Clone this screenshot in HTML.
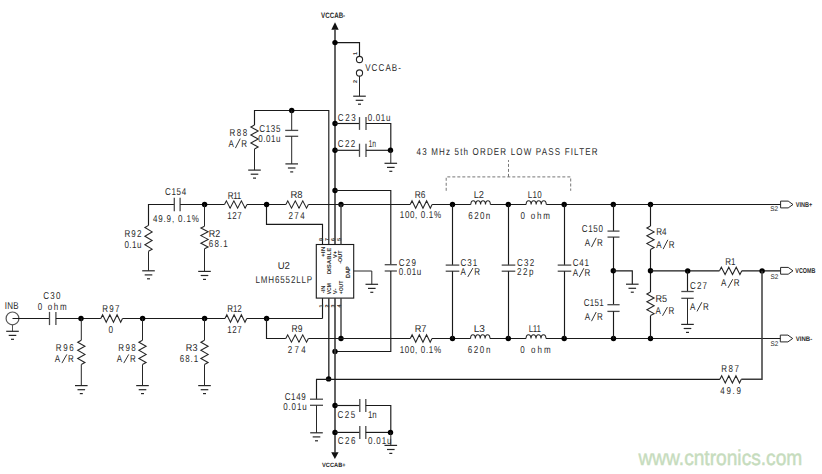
<!DOCTYPE html>
<html><head><meta charset="utf-8"><style>
html,body{margin:0;padding:0;background:#fff;}
svg{display:block;}
text{font-family:"Liberation Sans",sans-serif;text-rendering:geometricPrecision;}
</style></head><body>
<svg width="822" height="474" viewBox="0 0 822 474">
<rect width="822" height="474" fill="#fff"/>
<polygon points="331.3,29.8 338.7,29.8 335,22.2" fill="#111"/>
<polyline points="335,29.6 335,244.5" fill="none" stroke="#3c3c3c" stroke-width="1.6"/>
<polyline points="335,42.6 359.5,42.6 359.5,56.4" fill="none" stroke="#1a1a1a" stroke-width="1.15"/>
<circle cx="335" cy="42.6" r="2.7" fill="#000"/>
<circle cx="359.5" cy="59.5" r="3.1" fill="none" stroke="#262626" stroke-width="1.1"/>
<circle cx="359.5" cy="73" r="3.1" fill="none" stroke="#262626" stroke-width="1.1"/>
<polyline points="359.5,76.1 359.5,96.2" fill="none" stroke="#262626" stroke-width="1"/>
<line x1="353.2" y1="96.2" x2="365.8" y2="96.2" stroke="#262626" stroke-width="1.2"/>
<line x1="355.7" y1="100.3" x2="363.3" y2="100.3" stroke="#262626" stroke-width="1.2"/>
<line x1="358" y1="104.2" x2="361" y2="104.2" stroke="#262626" stroke-width="1.2"/>
<polyline points="254.5,125 254.5,110.5 328.8,110.5 328.8,244.5" fill="none" stroke="#1a1a1a" stroke-width="1.15"/>
<polyline points="254.5,125 250.9,127 258.1,131 250.9,135 258.1,139 250.9,143 258.1,147 254.5,149" fill="none" stroke="#262626" stroke-width="1.1"/>
<polyline points="254.5,149 254.5,170.1" fill="none" stroke="#262626" stroke-width="1"/>
<line x1="248.2" y1="170.1" x2="260.8" y2="170.1" stroke="#262626" stroke-width="1.2"/>
<line x1="250.7" y1="174.2" x2="258.3" y2="174.2" stroke="#262626" stroke-width="1.2"/>
<line x1="253" y1="178.1" x2="256" y2="178.1" stroke="#262626" stroke-width="1.2"/>
<circle cx="291.7" cy="110.5" r="2.7" fill="#000"/>
<polyline points="291.7,110.5 291.7,130.4" fill="none" stroke="#262626" stroke-width="1"/>
<line x1="285.2" y1="130.4" x2="298.2" y2="130.4" stroke="#4a4a4a" stroke-width="1.3"/>
<line x1="285.2" y1="136.3" x2="298.2" y2="136.3" stroke="#4a4a4a" stroke-width="1.3"/>
<polyline points="291.7,136.3 291.7,163.9" fill="none" stroke="#262626" stroke-width="1"/>
<line x1="285.4" y1="163.9" x2="298" y2="163.9" stroke="#262626" stroke-width="1.2"/>
<line x1="287.9" y1="168" x2="295.5" y2="168" stroke="#262626" stroke-width="1.2"/>
<line x1="290.2" y1="171.9" x2="293.2" y2="171.9" stroke="#262626" stroke-width="1.2"/>
<circle cx="335" cy="123.5" r="2.7" fill="#000"/>
<polyline points="335,123.5 359.5,123.5" fill="none" stroke="#1a1a1a" stroke-width="1.15"/>
<line x1="359.5" y1="117.1" x2="359.5" y2="129.9" stroke="#4a4a4a" stroke-width="1.3"/>
<line x1="366" y1="117.1" x2="366" y2="129.9" stroke="#4a4a4a" stroke-width="1.3"/>
<polyline points="366,123.5 390.8,123.5 390.8,150.3" fill="none" stroke="#1a1a1a" stroke-width="1.15"/>
<circle cx="335" cy="150.3" r="2.7" fill="#000"/>
<polyline points="335,150.3 359.5,150.3" fill="none" stroke="#1a1a1a" stroke-width="1.15"/>
<line x1="359.5" y1="143.7" x2="359.5" y2="156.9" stroke="#4a4a4a" stroke-width="1.3"/>
<line x1="366" y1="143.7" x2="366" y2="156.9" stroke="#4a4a4a" stroke-width="1.3"/>
<polyline points="366,150.3 390.8,150.3" fill="none" stroke="#1a1a1a" stroke-width="1.15"/>
<circle cx="390.5" cy="150.3" r="2.7" fill="#000"/>
<polyline points="390.8,150.3 390.8,163.3" fill="none" stroke="#262626" stroke-width="1"/>
<line x1="384.5" y1="163.3" x2="397.1" y2="163.3" stroke="#262626" stroke-width="1.2"/>
<line x1="387" y1="167.4" x2="394.6" y2="167.4" stroke="#262626" stroke-width="1.2"/>
<line x1="389.3" y1="171.3" x2="392.3" y2="171.3" stroke="#262626" stroke-width="1.2"/>
<circle cx="335" cy="190.5" r="2.7" fill="#000"/>
<polyline points="335,190.5 390.8,190.5 390.8,264.7" fill="none" stroke="#1a1a1a" stroke-width="1.15"/>
<line x1="384.7" y1="264.7" x2="396.9" y2="264.7" stroke="#4a4a4a" stroke-width="1.3"/>
<line x1="384.7" y1="271" x2="396.9" y2="271" stroke="#4a4a4a" stroke-width="1.3"/>
<polyline points="390.8,271 390.8,351.5 335,351.5" fill="none" stroke="#1a1a1a" stroke-width="1.15"/>
<circle cx="335" cy="351.5" r="2.7" fill="#000"/>
<rect x="316.3" y="244.5" width="37.4" height="53.6" fill="none" stroke="#1a1a1a" stroke-width="1.1"/>
<polyline points="266.5,204.5 266.5,224.4 322.5,224.4 322.5,244.5" fill="none" stroke="#1a1a1a" stroke-width="1.15"/>
<circle cx="341" cy="204.5" r="2.7" fill="#000"/>
<polyline points="341,204.5 341,244.5" fill="none" stroke="#3c3c3c" stroke-width="1.4"/>
<polyline points="353.7,271 371.8,271 371.8,284.3" fill="none" stroke="#262626" stroke-width="1"/>
<line x1="365.5" y1="284.3" x2="378.1" y2="284.3" stroke="#262626" stroke-width="1.2"/>
<line x1="368" y1="288.4" x2="375.6" y2="288.4" stroke="#262626" stroke-width="1.2"/>
<line x1="370.3" y1="292.3" x2="373.3" y2="292.3" stroke="#262626" stroke-width="1.2"/>
<polyline points="322.5,298.1 322.5,318.5" fill="none" stroke="#1a1a1a" stroke-width="1.15"/>
<polyline points="328.8,298.1 328.8,379.2" fill="none" stroke="#3c3c3c" stroke-width="1.5"/>
<circle cx="328.6" cy="378.9" r="2.7" fill="#000"/>
<polyline points="335,298.1 335,452.4" fill="none" stroke="#3c3c3c" stroke-width="1.6"/>
<polygon points="331.2,452.2 338.6,452.2 334.9,459" fill="#111"/>
<polyline points="341,298.1 341,338.5" fill="none" stroke="#3c3c3c" stroke-width="1.4"/>
<circle cx="341" cy="338.5" r="2.7" fill="#000"/>
<polyline points="148.5,225.4 148.5,204.5 174.3,204.5" fill="none" stroke="#1a1a1a" stroke-width="1.15"/>
<line x1="174.3" y1="197.7" x2="174.3" y2="211.3" stroke="#4a4a4a" stroke-width="1.3"/>
<line x1="180.1" y1="197.7" x2="180.1" y2="211.3" stroke="#4a4a4a" stroke-width="1.3"/>
<polyline points="180.1,204.5 224.5,204.5" fill="none" stroke="#1a1a1a" stroke-width="1.15"/>
<polyline points="224.5,204.5 226.38,200.85 230.12,208.15 233.88,200.85 237.62,208.15 241.38,200.85 245.12,208.15 247,204.5" fill="none" stroke="#262626" stroke-width="1.1"/>
<polyline points="247,204.5 285.9,204.5" fill="none" stroke="#1a1a1a" stroke-width="1.15"/>
<polyline points="285.9,204.5 287.77,200.85 291.52,208.15 295.27,200.85 299.02,208.15 302.77,200.85 306.52,208.15 308.4,204.5" fill="none" stroke="#262626" stroke-width="1.1"/>
<polyline points="308.4,204.5 410.2,204.5" fill="none" stroke="#1a1a1a" stroke-width="1.15"/>
<polyline points="410.2,204.5 412.02,200.85 415.68,208.15 419.32,200.85 422.98,208.15 426.62,200.85 430.28,208.15 432.1,204.5" fill="none" stroke="#262626" stroke-width="1.1"/>
<polyline points="432.1,204.5 470.8,204.5" fill="none" stroke="#1a1a1a" stroke-width="1.15"/>
<path d="M470.8,204.5 C471.05,199.56 475.45,199.56 475.7,204.5 C475.94,199.56 480.35,199.56 480.6,204.5 C480.85,199.56 485.25,199.56 485.5,204.5 C485.75,199.56 490.15,199.56 490.4,204.5" fill="none" stroke="#262626" stroke-width="1.1"/>
<polyline points="490.4,204.5 526.1,204.5" fill="none" stroke="#1a1a1a" stroke-width="1.15"/>
<path d="M526.1,204.5 C526.35,199.56 530.9,199.56 531.15,204.5 C531.4,199.56 535.95,199.56 536.2,204.5 C536.45,199.56 541,199.56 541.25,204.5 C541.5,199.56 546.05,199.56 546.3,204.5" fill="none" stroke="#262626" stroke-width="1.1"/>
<polyline points="546.3,204.5 780.6,204.5" fill="none" stroke="#1a1a1a" stroke-width="1.15"/>
<circle cx="204.6" cy="204.5" r="2.7" fill="#000"/>
<circle cx="266.6" cy="204.5" r="2.7" fill="#000"/>
<circle cx="452.5" cy="204.5" r="2.7" fill="#000"/>
<circle cx="508.3" cy="204.5" r="2.7" fill="#000"/>
<circle cx="564.2" cy="204.5" r="2.7" fill="#000"/>
<circle cx="613.3" cy="204.5" r="2.7" fill="#000"/>
<circle cx="650.5" cy="204.5" r="2.7" fill="#000"/>
<polyline points="148.5,225.4 144.9,227.56 152.1,231.88 144.9,236.19 152.1,240.51 144.9,244.83 152.1,249.14 148.5,251.3" fill="none" stroke="#262626" stroke-width="1.1"/>
<polyline points="148.5,251.3 148.5,270.8" fill="none" stroke="#262626" stroke-width="1"/>
<line x1="142.2" y1="270.8" x2="154.8" y2="270.8" stroke="#262626" stroke-width="1.2"/>
<line x1="144.7" y1="274.9" x2="152.3" y2="274.9" stroke="#262626" stroke-width="1.2"/>
<line x1="147" y1="278.8" x2="150" y2="278.8" stroke="#262626" stroke-width="1.2"/>
<polyline points="204.5,204.5 204.5,226.2" fill="none" stroke="#262626" stroke-width="1"/>
<polyline points="204.5,226.2 200.9,228.08 208.1,231.85 200.9,235.62 208.1,239.38 200.9,243.15 208.1,246.92 204.5,248.8" fill="none" stroke="#262626" stroke-width="1.1"/>
<polyline points="204.5,248.8 204.5,271.4" fill="none" stroke="#262626" stroke-width="1"/>
<line x1="198.2" y1="271.4" x2="210.8" y2="271.4" stroke="#262626" stroke-width="1.2"/>
<line x1="200.7" y1="275.5" x2="208.3" y2="275.5" stroke="#262626" stroke-width="1.2"/>
<line x1="203" y1="279.4" x2="206" y2="279.4" stroke="#262626" stroke-width="1.2"/>
<circle cx="12.5" cy="318.4" r="6.4" fill="none" stroke="#555" stroke-width="1.2"/>
<polyline points="12.5,318.5 49.5,318.5" fill="none" stroke="#1a1a1a" stroke-width="1.15"/>
<line x1="49.5" y1="311.9" x2="49.5" y2="325.1" stroke="#4a4a4a" stroke-width="1.3"/>
<line x1="55.9" y1="311.9" x2="55.9" y2="325.1" stroke="#4a4a4a" stroke-width="1.3"/>
<polyline points="55.9,318.5 100.8,318.5" fill="none" stroke="#1a1a1a" stroke-width="1.15"/>
<polyline points="100.8,318.5 102.61,314.85 106.22,322.15 109.84,314.85 113.46,322.15 117.08,314.85 120.69,322.15 122.5,318.5" fill="none" stroke="#262626" stroke-width="1.1"/>
<polyline points="122.5,318.5 225,318.5" fill="none" stroke="#1a1a1a" stroke-width="1.15"/>
<polyline points="225,318.5 226.82,314.85 230.45,322.15 234.08,314.85 237.72,322.15 241.35,314.85 244.98,322.15 246.8,318.5" fill="none" stroke="#262626" stroke-width="1.1"/>
<polyline points="246.8,318.5 322.5,318.5" fill="none" stroke="#1a1a1a" stroke-width="1.15"/>
<circle cx="81" cy="318.5" r="2.7" fill="#000"/>
<circle cx="142.6" cy="318.5" r="2.7" fill="#000"/>
<circle cx="204.6" cy="318.5" r="2.7" fill="#000"/>
<circle cx="266.6" cy="318.5" r="2.7" fill="#000"/>
<polyline points="12.5,324.8 12.5,331.3" fill="none" stroke="#555" stroke-width="1"/>
<line x1="6.2" y1="331.3" x2="18.8" y2="331.3" stroke="#262626" stroke-width="1.2"/>
<line x1="8.7" y1="335.4" x2="16.3" y2="335.4" stroke="#262626" stroke-width="1.2"/>
<line x1="11" y1="339.3" x2="14" y2="339.3" stroke="#262626" stroke-width="1.2"/>
<polyline points="81.3,318.5 81.3,340.2" fill="none" stroke="#262626" stroke-width="1"/>
<polyline points="81.3,340.2 77.7,342.22 84.9,346.27 77.7,350.32 84.9,354.38 77.7,358.43 84.9,362.48 81.3,364.5" fill="none" stroke="#262626" stroke-width="1.1"/>
<polyline points="81.3,364.5 81.3,385.6" fill="none" stroke="#262626" stroke-width="1"/>
<line x1="75" y1="385.6" x2="87.6" y2="385.6" stroke="#262626" stroke-width="1.2"/>
<line x1="77.5" y1="389.7" x2="85.1" y2="389.7" stroke="#262626" stroke-width="1.2"/>
<line x1="79.8" y1="393.6" x2="82.8" y2="393.6" stroke="#262626" stroke-width="1.2"/>
<polyline points="142.5,318.5 142.5,340.2" fill="none" stroke="#262626" stroke-width="1"/>
<polyline points="142.5,340.2 138.9,342.22 146.1,346.27 138.9,350.32 146.1,354.38 138.9,358.43 146.1,362.48 142.5,364.5" fill="none" stroke="#262626" stroke-width="1.1"/>
<polyline points="142.5,364.5 142.5,385.6" fill="none" stroke="#262626" stroke-width="1"/>
<line x1="136.2" y1="385.6" x2="148.8" y2="385.6" stroke="#262626" stroke-width="1.2"/>
<line x1="138.7" y1="389.7" x2="146.3" y2="389.7" stroke="#262626" stroke-width="1.2"/>
<line x1="141" y1="393.6" x2="144" y2="393.6" stroke="#262626" stroke-width="1.2"/>
<polyline points="204.5,318.5 204.5,340.2" fill="none" stroke="#262626" stroke-width="1"/>
<polyline points="204.5,340.2 200.9,342.22 208.1,346.27 200.9,350.32 208.1,354.38 200.9,358.43 208.1,362.48 204.5,364.5" fill="none" stroke="#262626" stroke-width="1.1"/>
<polyline points="204.5,364.5 204.5,385.6" fill="none" stroke="#262626" stroke-width="1"/>
<line x1="198.2" y1="385.6" x2="210.8" y2="385.6" stroke="#262626" stroke-width="1.2"/>
<line x1="200.7" y1="389.7" x2="208.3" y2="389.7" stroke="#262626" stroke-width="1.2"/>
<line x1="203" y1="393.6" x2="206" y2="393.6" stroke="#262626" stroke-width="1.2"/>
<polyline points="266.5,318.5 266.5,338.5 285.8,338.5" fill="none" stroke="#1a1a1a" stroke-width="1.15"/>
<polyline points="285.8,338.5 287.68,334.85 291.45,342.15 295.22,334.85 298.98,342.15 302.75,334.85 306.52,342.15 308.4,338.5" fill="none" stroke="#262626" stroke-width="1.1"/>
<polyline points="308.4,338.5 410.3,338.5" fill="none" stroke="#1a1a1a" stroke-width="1.15"/>
<polyline points="410.3,338.5 412.11,334.85 415.73,342.15 419.34,334.85 422.96,342.15 426.57,334.85 430.19,342.15 432,338.5" fill="none" stroke="#262626" stroke-width="1.1"/>
<polyline points="432,338.5 470.5,338.5" fill="none" stroke="#1a1a1a" stroke-width="1.15"/>
<path d="M470.5,338.5 C470.74,333.56 475.13,333.56 475.38,338.5 C475.62,333.56 480.01,333.56 480.25,338.5 C480.49,333.56 484.88,333.56 485.12,338.5 C485.37,333.56 489.76,333.56 490,338.5" fill="none" stroke="#262626" stroke-width="1.1"/>
<polyline points="490,338.5 526,338.5" fill="none" stroke="#1a1a1a" stroke-width="1.15"/>
<path d="M526,338.5 C526.25,333.56 530.75,333.56 531,338.5 C531.25,333.56 535.75,333.56 536,338.5 C536.25,333.56 540.75,333.56 541,338.5 C541.25,333.56 545.75,333.56 546,338.5" fill="none" stroke="#262626" stroke-width="1.1"/>
<polyline points="546,338.5 780.3,338.5" fill="none" stroke="#1a1a1a" stroke-width="1.15"/>
<circle cx="452.5" cy="338.5" r="2.7" fill="#000"/>
<circle cx="508.3" cy="338.5" r="2.7" fill="#000"/>
<circle cx="564.2" cy="338.5" r="2.7" fill="#000"/>
<circle cx="613.5" cy="338.5" r="2.7" fill="#000"/>
<circle cx="650.5" cy="338.5" r="2.7" fill="#000"/>
<polyline points="452.5,204.5 452.5,265.1" fill="none" stroke="#1a1a1a" stroke-width="1.15"/>
<line x1="445.7" y1="265.1" x2="459.3" y2="265.1" stroke="#4a4a4a" stroke-width="1.3"/>
<line x1="445.7" y1="271.2" x2="459.3" y2="271.2" stroke="#4a4a4a" stroke-width="1.3"/>
<polyline points="452.5,271.2 452.5,338.5" fill="none" stroke="#1a1a1a" stroke-width="1.15"/>
<polyline points="508.5,204.5 508.5,265.1" fill="none" stroke="#1a1a1a" stroke-width="1.15"/>
<line x1="501.7" y1="265.1" x2="515.3" y2="265.1" stroke="#4a4a4a" stroke-width="1.3"/>
<line x1="501.7" y1="271.2" x2="515.3" y2="271.2" stroke="#4a4a4a" stroke-width="1.3"/>
<polyline points="508.5,271.2 508.5,338.5" fill="none" stroke="#1a1a1a" stroke-width="1.15"/>
<polyline points="564.5,204.5 564.5,265.1" fill="none" stroke="#1a1a1a" stroke-width="1.15"/>
<line x1="557.7" y1="265.1" x2="571.3" y2="265.1" stroke="#4a4a4a" stroke-width="1.3"/>
<line x1="557.7" y1="271.2" x2="571.3" y2="271.2" stroke="#4a4a4a" stroke-width="1.3"/>
<polyline points="564.5,271.2 564.5,338.5" fill="none" stroke="#1a1a1a" stroke-width="1.15"/>
<polyline points="613.5,204.5 613.5,231.1" fill="none" stroke="#1a1a1a" stroke-width="1.15"/>
<line x1="607.5" y1="231.1" x2="619.5" y2="231.1" stroke="#4a4a4a" stroke-width="1.3"/>
<line x1="607.5" y1="237.1" x2="619.5" y2="237.1" stroke="#4a4a4a" stroke-width="1.3"/>
<polyline points="613.5,237.1 613.5,304.7" fill="none" stroke="#1a1a1a" stroke-width="1.15"/>
<line x1="607.4" y1="304.7" x2="619.6" y2="304.7" stroke="#4a4a4a" stroke-width="1.3"/>
<line x1="607.4" y1="311.4" x2="619.6" y2="311.4" stroke="#4a4a4a" stroke-width="1.3"/>
<polyline points="613.5,311.4 613.5,338.5" fill="none" stroke="#1a1a1a" stroke-width="1.15"/>
<circle cx="613.3" cy="270.8" r="2.7" fill="#000"/>
<polyline points="613.5,270.8 632.3,270.8 632.3,284.2" fill="none" stroke="#1a1a1a" stroke-width="1.15"/>
<line x1="626" y1="284.2" x2="638.6" y2="284.2" stroke="#262626" stroke-width="1.2"/>
<line x1="628.5" y1="288.3" x2="636.1" y2="288.3" stroke="#262626" stroke-width="1.2"/>
<line x1="630.8" y1="292.2" x2="633.8" y2="292.2" stroke="#262626" stroke-width="1.2"/>
<polyline points="650.5,204.5 650.5,226" fill="none" stroke="#1a1a1a" stroke-width="1.15"/>
<polyline points="650.5,226 646.9,227.96 654.1,231.88 646.9,235.79 654.1,239.71 646.9,243.62 654.1,247.54 650.5,249.5" fill="none" stroke="#262626" stroke-width="1.1"/>
<polyline points="650.5,249.5 650.5,292" fill="none" stroke="#1a1a1a" stroke-width="1.15"/>
<polyline points="650.5,292 646.9,293.97 654.1,297.9 646.9,301.83 654.1,305.77 646.9,309.7 654.1,313.63 650.5,315.6" fill="none" stroke="#262626" stroke-width="1.1"/>
<polyline points="650.5,315.6 650.5,338.5" fill="none" stroke="#1a1a1a" stroke-width="1.15"/>
<circle cx="650.5" cy="270.8" r="2.7" fill="#000"/>
<polyline points="650.5,270.8 719.5,270.8" fill="none" stroke="#1a1a1a" stroke-width="1.15"/>
<polyline points="719.5,270.8 721.36,267.15 725.08,274.45 728.79,267.15 732.51,274.45 736.22,267.15 739.94,274.45 741.8,270.8" fill="none" stroke="#262626" stroke-width="1.1"/>
<polyline points="741.8,270.8 780.6,270.8" fill="none" stroke="#1a1a1a" stroke-width="1.15"/>
<circle cx="687.7" cy="270.9" r="2.7" fill="#000"/>
<circle cx="762.1" cy="270.9" r="2.7" fill="#000"/>
<polyline points="687.5,270.8 687.5,291.5" fill="none" stroke="#1a1a1a" stroke-width="1.15"/>
<line x1="681.3" y1="291.5" x2="693.7" y2="291.5" stroke="#4a4a4a" stroke-width="1.3"/>
<line x1="681.3" y1="298.3" x2="693.7" y2="298.3" stroke="#4a4a4a" stroke-width="1.3"/>
<polyline points="687.5,298.3 687.5,324.4" fill="none" stroke="#262626" stroke-width="1"/>
<line x1="681.2" y1="324.4" x2="693.8" y2="324.4" stroke="#262626" stroke-width="1.2"/>
<line x1="683.7" y1="328.5" x2="691.3" y2="328.5" stroke="#262626" stroke-width="1.2"/>
<line x1="686" y1="332.4" x2="689" y2="332.4" stroke="#262626" stroke-width="1.2"/>
<polyline points="762,270.8 762,379.3 741.3,379.3" fill="none" stroke="#3c3c3c" stroke-width="1.5"/>
<polyline points="719.9,379.3 721.68,375.65 725.25,382.95 728.82,375.65 732.38,382.95 735.95,375.65 739.52,382.95 741.3,379.3" fill="none" stroke="#262626" stroke-width="1.1"/>
<polyline points="719.9,379.3 316.5,379.3 316.5,399.2" fill="none" stroke="#1a1a1a" stroke-width="1.15"/>
<line x1="310" y1="399.2" x2="323" y2="399.2" stroke="#4a4a4a" stroke-width="1.3"/>
<line x1="310" y1="405.3" x2="323" y2="405.3" stroke="#4a4a4a" stroke-width="1.3"/>
<polyline points="316.5,405.3 316.5,432.8" fill="none" stroke="#262626" stroke-width="1"/>
<line x1="310.2" y1="432.8" x2="322.8" y2="432.8" stroke="#262626" stroke-width="1.2"/>
<line x1="312.7" y1="436.9" x2="320.3" y2="436.9" stroke="#262626" stroke-width="1.2"/>
<line x1="315" y1="440.8" x2="318" y2="440.8" stroke="#262626" stroke-width="1.2"/>
<circle cx="335" cy="405.5" r="2.7" fill="#000"/>
<polyline points="335,405.5 359.8,405.5" fill="none" stroke="#1a1a1a" stroke-width="1.15"/>
<line x1="359.8" y1="399" x2="359.8" y2="412" stroke="#4a4a4a" stroke-width="1.3"/>
<line x1="365.8" y1="399" x2="365.8" y2="412" stroke="#4a4a4a" stroke-width="1.3"/>
<polyline points="365.8,405.5 390.8,405.5 390.8,432.4" fill="none" stroke="#1a1a1a" stroke-width="1.15"/>
<circle cx="335" cy="432.4" r="2.7" fill="#000"/>
<polyline points="335,432.4 359.8,432.4" fill="none" stroke="#1a1a1a" stroke-width="1.15"/>
<line x1="359.8" y1="425.9" x2="359.8" y2="438.9" stroke="#4a4a4a" stroke-width="1.3"/>
<line x1="365.8" y1="425.9" x2="365.8" y2="438.9" stroke="#4a4a4a" stroke-width="1.3"/>
<polyline points="365.8,432.4 390.8,432.4" fill="none" stroke="#1a1a1a" stroke-width="1.15"/>
<circle cx="390.5" cy="432.4" r="2.7" fill="#000"/>
<polyline points="390.8,432.4 390.8,445.4" fill="none" stroke="#262626" stroke-width="1"/>
<line x1="384.5" y1="445.4" x2="397.1" y2="445.4" stroke="#262626" stroke-width="1.2"/>
<line x1="387" y1="449.5" x2="394.6" y2="449.5" stroke="#262626" stroke-width="1.2"/>
<line x1="389.3" y1="453.4" x2="392.3" y2="453.4" stroke="#262626" stroke-width="1.2"/>
<polygon points="780.6,201.1 788.2,201.1 793,204.5 788.2,207.9 780.6,207.9" fill="none" stroke="#262626" stroke-width="1"/>
<polygon points="780.6,267.4 788.2,267.4 793,270.8 788.2,274.2 780.6,274.2" fill="none" stroke="#262626" stroke-width="1"/>
<polygon points="780.3,335.1 787.9,335.1 792.7,338.5 787.9,341.9 780.3,341.9" fill="none" stroke="#262626" stroke-width="1"/>
<polyline points="446.2,190.8 446.2,176.9 570.7,176.9 570.7,190.8" fill="none" stroke="#777" stroke-width="1" stroke-dasharray="3,2"/>
<line x1="508.5" y1="176.9" x2="508.5" y2="160.1" stroke="#777" stroke-width="1" stroke-dasharray="3,2"/>
<text x="321.1" y="17.9" font-size="7.86" textLength="24.1" lengthAdjust="spacingAndGlyphs" font-weight="bold" fill="#2a2a2a">VCCAB-</text>
<text transform="translate(365.15,70.7) scale(0.8,1)" x="0" y="0" font-size="10" textLength="44.81" lengthAdjust="spacing" fill="#2a2a2a">VCCAB-</text>
<text transform="translate(229.45,135.9) scale(0.8,1)" x="0" y="0" font-size="10" textLength="22.06" lengthAdjust="spacing" fill="#2a2a2a">R88</text>
<line x1="235.42" y1="148.1" x2="240.26" y2="138.6" stroke="#2a2a2a" stroke-width="0.95"/>
<text transform="translate(228.45,146.6) scale(0.8,1)" x="0" y="0" font-size="10" textLength="23.31" lengthAdjust="spacing" fill="#2a2a2a">A R</text>
<text transform="translate(259.35,131.9) scale(0.8,1)" x="0" y="0" font-size="10" textLength="26.31" lengthAdjust="spacing" fill="#2a2a2a">C135</text>
<text transform="translate(258.15,141.5) scale(0.8,1)" x="0" y="0" font-size="10" textLength="27.81" lengthAdjust="spacing" fill="#2a2a2a">0.01u</text>
<text transform="translate(337.85,120.9) scale(0.8,1)" x="0" y="0" font-size="10" textLength="22.44" lengthAdjust="spacing" fill="#2a2a2a">C23</text>
<text transform="translate(367.65,120.9) scale(0.8,1)" x="0" y="0" font-size="10" textLength="28.44" lengthAdjust="spacing" fill="#2a2a2a">0.01u</text>
<text transform="translate(337.85,147.4) scale(0.8,1)" x="0" y="0" font-size="10" textLength="21.56" lengthAdjust="spacing" fill="#2a2a2a">C22</text>
<text x="368.55" y="147.4" font-size="10" textLength="7.55" lengthAdjust="spacingAndGlyphs" fill="#2a2a2a">1n</text>
<text transform="translate(416.55,154.8) scale(0.8,1)" x="0" y="0" font-size="10" textLength="226.19" lengthAdjust="spacing" fill="#2a2a2a">43 MHz 5th ORDER LOW PASS FILTER</text>
<text transform="translate(165.05,195.4) scale(0.8,1)" x="0" y="0" font-size="10" textLength="26.31" lengthAdjust="spacing" fill="#2a2a2a">C154</text>
<text transform="translate(152.95,222) scale(0.8,1)" x="0" y="0" font-size="10" textLength="57.31" lengthAdjust="spacing" fill="#2a2a2a">49.9, 0.1%</text>
<text transform="translate(124.45,236.6) scale(0.8,1)" x="0" y="0" font-size="10" textLength="21.19" lengthAdjust="spacing" fill="#2a2a2a">R92</text>
<text transform="translate(124.45,247.7) scale(0.8,1)" x="0" y="0" font-size="10" textLength="21.19" lengthAdjust="spacing" fill="#2a2a2a">0.1u</text>
<text x="208.85" y="237.2" font-size="10" textLength="11.45" lengthAdjust="spacingAndGlyphs" fill="#2a2a2a">R2</text>
<text transform="translate(208.85,247.1) scale(0.8,1)" x="0" y="0" font-size="10" textLength="23.56" lengthAdjust="spacing" fill="#2a2a2a">68.1</text>
<text transform="translate(227.85,198.5) scale(0.8,1)" x="0" y="0" font-size="10" textLength="16.81" lengthAdjust="spacing" fill="#2a2a2a">R11</text>
<text transform="translate(227.15,218.7) scale(0.8,1)" x="0" y="0" font-size="10" textLength="18.31" lengthAdjust="spacing" fill="#2a2a2a">127</text>
<text x="290.45" y="198.1" font-size="10" textLength="12.15" lengthAdjust="spacingAndGlyphs" fill="#2a2a2a">R8</text>
<text transform="translate(288.45,218.5) scale(0.8,1)" x="0" y="0" font-size="10" textLength="20.31" lengthAdjust="spacing" fill="#2a2a2a">274</text>
<text x="277.65" y="268.8" font-size="10" textLength="12.25" lengthAdjust="spacingAndGlyphs" fill="#2a2a2a">U2</text>
<text transform="translate(255.45,282.8) scale(0.8,1)" x="0" y="0" font-size="10" textLength="70.94" lengthAdjust="spacing" fill="#2a2a2a">LMH6552LLP</text>
<text x="414.75" y="197.8" font-size="10" textLength="10.65" lengthAdjust="spacingAndGlyphs" fill="#2a2a2a">R6</text>
<text transform="translate(399.85,218.4) scale(0.8,1)" x="0" y="0" font-size="10" textLength="51.44" lengthAdjust="spacing" fill="#2a2a2a">100, 0.1%</text>
<text x="473.65" y="198" font-size="10" textLength="10.25" lengthAdjust="spacingAndGlyphs" fill="#2a2a2a">L2</text>
<text transform="translate(468.35,218.8) scale(0.8,1)" x="0" y="0" font-size="10" textLength="27.31" lengthAdjust="spacing" fill="#2a2a2a">620n</text>
<text transform="translate(527.65,197.9) scale(0.8,1)" x="0" y="0" font-size="10" textLength="17.44" lengthAdjust="spacing" fill="#2a2a2a">L10</text>
<text transform="translate(520.45,218.7) scale(0.8,1)" x="0" y="0" font-size="10" textLength="36.81" lengthAdjust="spacing" fill="#2a2a2a">0 ohm</text>
<text transform="translate(398.75,266.1) scale(0.8,1)" x="0" y="0" font-size="10" textLength="21.56" lengthAdjust="spacing" fill="#2a2a2a">C29</text>
<text transform="translate(398.75,274.9) scale(0.8,1)" x="0" y="0" font-size="10" textLength="28.19" lengthAdjust="spacing" fill="#2a2a2a">0.01u</text>
<text transform="translate(460.55,265.8) scale(0.8,1)" x="0" y="0" font-size="10" textLength="20.81" lengthAdjust="spacing" fill="#2a2a2a">C31</text>
<line x1="467.82" y1="276.9" x2="472.87" y2="268.1" stroke="#2a2a2a" stroke-width="0.95"/>
<text transform="translate(460.55,275.4) scale(0.8,1)" x="0" y="0" font-size="10" textLength="24.31" lengthAdjust="spacing" fill="#2a2a2a">A R</text>
<text transform="translate(517.05,265.8) scale(0.8,1)" x="0" y="0" font-size="10" textLength="21.56" lengthAdjust="spacing" fill="#2a2a2a">C32</text>
<text transform="translate(517.05,275.4) scale(0.8,1)" x="0" y="0" font-size="10" textLength="20.44" lengthAdjust="spacing" fill="#2a2a2a">22p</text>
<text transform="translate(572.65,265.7) scale(0.8,1)" x="0" y="0" font-size="10" textLength="20.44" lengthAdjust="spacing" fill="#2a2a2a">C41</text>
<line x1="579.29" y1="277.1" x2="583.88" y2="268.2" stroke="#2a2a2a" stroke-width="0.95"/>
<text transform="translate(572.65,275.6) scale(0.8,1)" x="0" y="0" font-size="10" textLength="22.19" lengthAdjust="spacing" fill="#2a2a2a">A R</text>
<text transform="translate(581.65,231.8) scale(0.8,1)" x="0" y="0" font-size="10" textLength="26.56" lengthAdjust="spacing" fill="#2a2a2a">C150</text>
<line x1="591.48" y1="247.1" x2="596.2" y2="237.8" stroke="#2a2a2a" stroke-width="0.95"/>
<text transform="translate(584.65,245.6) scale(0.8,1)" x="0" y="0" font-size="10" textLength="22.81" lengthAdjust="spacing" fill="#2a2a2a">A R</text>
<text transform="translate(583.85,305.7) scale(0.8,1)" x="0" y="0" font-size="10" textLength="24.69" lengthAdjust="spacing" fill="#2a2a2a">C151</text>
<line x1="591.48" y1="321.2" x2="596.2" y2="312" stroke="#2a2a2a" stroke-width="0.95"/>
<text transform="translate(584.65,319.7) scale(0.8,1)" x="0" y="0" font-size="10" textLength="22.81" lengthAdjust="spacing" fill="#2a2a2a">A R</text>
<text x="656.25" y="235.2" font-size="10" textLength="10.35" lengthAdjust="spacingAndGlyphs" fill="#2a2a2a">R4</text>
<line x1="663.11" y1="249.1" x2="667.86" y2="239.8" stroke="#2a2a2a" stroke-width="0.95"/>
<text transform="translate(656.25,247.6) scale(0.8,1)" x="0" y="0" font-size="10" textLength="22.94" lengthAdjust="spacing" fill="#2a2a2a">A R</text>
<text x="655.45" y="302" font-size="10" textLength="11.65" lengthAdjust="spacingAndGlyphs" fill="#2a2a2a">R5</text>
<line x1="662.53" y1="315.8" x2="667.45" y2="307.1" stroke="#2a2a2a" stroke-width="0.95"/>
<text transform="translate(655.45,314.3) scale(0.8,1)" x="0" y="0" font-size="10" textLength="23.69" lengthAdjust="spacing" fill="#2a2a2a">A R</text>
<text x="725.25" y="265.1" font-size="10" textLength="10.25" lengthAdjust="spacingAndGlyphs" fill="#2a2a2a">R1</text>
<line x1="727.99" y1="287.9" x2="732.79" y2="279.2" stroke="#2a2a2a" stroke-width="0.95"/>
<text transform="translate(721.05,286.4) scale(0.8,1)" x="0" y="0" font-size="10" textLength="23.19" lengthAdjust="spacing" fill="#2a2a2a">A R</text>
<text transform="translate(690.05,288.7) scale(0.8,1)" x="0" y="0" font-size="10" textLength="21.06" lengthAdjust="spacing" fill="#2a2a2a">C27</text>
<line x1="697.02" y1="311.4" x2="701.86" y2="302.2" stroke="#2a2a2a" stroke-width="0.95"/>
<text transform="translate(690.05,309.9) scale(0.8,1)" x="0" y="0" font-size="10" textLength="23.31" lengthAdjust="spacing" fill="#2a2a2a">A R</text>
<text transform="translate(4.75,308.5) scale(0.8,1)" x="0" y="0" font-size="10" textLength="17.19" lengthAdjust="spacing" fill="#2a2a2a">INB</text>
<text transform="translate(43.35,298.7) scale(0.8,1)" x="0" y="0" font-size="10" textLength="21.44" lengthAdjust="spacing" fill="#2a2a2a">C30</text>
<text transform="translate(37.65,309.6) scale(0.8,1)" x="0" y="0" font-size="10" textLength="36.19" lengthAdjust="spacing" fill="#2a2a2a">0 ohm</text>
<text transform="translate(102.15,311.7) scale(0.8,1)" x="0" y="0" font-size="10" textLength="21.56" lengthAdjust="spacing" fill="#2a2a2a">R97</text>
<text x="108.55" y="333.3" font-size="10" textLength="4.55" lengthAdjust="spacingAndGlyphs" fill="#2a2a2a">0</text>
<text transform="translate(55.85,351) scale(0.8,1)" x="0" y="0" font-size="10" textLength="22.44" lengthAdjust="spacing" fill="#2a2a2a">R96</text>
<line x1="61.93" y1="363.1" x2="66.85" y2="354.4" stroke="#2a2a2a" stroke-width="0.95"/>
<text transform="translate(54.85,361.6) scale(0.8,1)" x="0" y="0" font-size="10" textLength="23.69" lengthAdjust="spacing" fill="#2a2a2a">A R</text>
<text transform="translate(118.15,351) scale(0.8,1)" x="0" y="0" font-size="10" textLength="22.06" lengthAdjust="spacing" fill="#2a2a2a">R98</text>
<line x1="123.81" y1="363.1" x2="128.78" y2="354.4" stroke="#2a2a2a" stroke-width="0.95"/>
<text transform="translate(116.65,361.6) scale(0.8,1)" x="0" y="0" font-size="10" textLength="23.94" lengthAdjust="spacing" fill="#2a2a2a">A R</text>
<text x="185.85" y="351" font-size="10" textLength="11.65" lengthAdjust="spacingAndGlyphs" fill="#2a2a2a">R3</text>
<text transform="translate(179.75,361.6) scale(0.8,1)" x="0" y="0" font-size="10" textLength="23.06" lengthAdjust="spacing" fill="#2a2a2a">68.1</text>
<text transform="translate(227.15,311.7) scale(0.8,1)" x="0" y="0" font-size="10" textLength="18.31" lengthAdjust="spacing" fill="#2a2a2a">R12</text>
<text transform="translate(227.15,332.8) scale(0.8,1)" x="0" y="0" font-size="10" textLength="18.31" lengthAdjust="spacing" fill="#2a2a2a">127</text>
<text x="291.55" y="331.9" font-size="10" textLength="10.85" lengthAdjust="spacingAndGlyphs" fill="#2a2a2a">R9</text>
<text transform="translate(287.65,352.9) scale(0.8,1)" x="0" y="0" font-size="10" textLength="22.56" lengthAdjust="spacing" fill="#2a2a2a">274</text>
<text x="414.65" y="331.9" font-size="10" textLength="11.75" lengthAdjust="spacingAndGlyphs" fill="#2a2a2a">R7</text>
<text transform="translate(399.65,353) scale(0.8,1)" x="0" y="0" font-size="10" textLength="51.69" lengthAdjust="spacing" fill="#2a2a2a">100, 0.1%</text>
<text x="473.65" y="331.9" font-size="10" textLength="11.25" lengthAdjust="spacingAndGlyphs" fill="#2a2a2a">L3</text>
<text transform="translate(467.65,353) scale(0.8,1)" x="0" y="0" font-size="10" textLength="28.44" lengthAdjust="spacing" fill="#2a2a2a">620n</text>
<text transform="translate(528.65,331.9) scale(0.8,1)" x="0" y="0" font-size="10" textLength="15.31" lengthAdjust="spacing" fill="#2a2a2a">L11</text>
<text transform="translate(520.35,353) scale(0.8,1)" x="0" y="0" font-size="10" textLength="37.94" lengthAdjust="spacing" fill="#2a2a2a">0 ohm</text>
<text transform="translate(721.25,372.1) scale(0.8,1)" x="0" y="0" font-size="10" textLength="22.06" lengthAdjust="spacing" fill="#2a2a2a">R87</text>
<text transform="translate(720.25,393.5) scale(0.8,1)" x="0" y="0" font-size="10" textLength="25.81" lengthAdjust="spacing" fill="#2a2a2a">49.9</text>
<text transform="translate(284.65,399.5) scale(0.8,1)" x="0" y="0" font-size="10" textLength="26.31" lengthAdjust="spacing" fill="#2a2a2a">C149</text>
<text transform="translate(283.15,409.6) scale(0.8,1)" x="0" y="0" font-size="10" textLength="29.44" lengthAdjust="spacing" fill="#2a2a2a">0.01u</text>
<text transform="translate(337.55,417.5) scale(0.8,1)" x="0" y="0" font-size="10" textLength="22.19" lengthAdjust="spacing" fill="#2a2a2a">C25</text>
<text x="367.95" y="417.5" font-size="10" textLength="8.75" lengthAdjust="spacingAndGlyphs" fill="#2a2a2a">1n</text>
<text transform="translate(337.65,444.3) scale(0.8,1)" x="0" y="0" font-size="10" textLength="22.19" lengthAdjust="spacing" fill="#2a2a2a">C26</text>
<text transform="translate(367.95,444.3) scale(0.8,1)" x="0" y="0" font-size="10" textLength="29.31" lengthAdjust="spacing" fill="#2a2a2a">0.01u</text>
<text x="322" y="467.1" font-size="6.14" textLength="23.6" lengthAdjust="spacingAndGlyphs" font-weight="bold" fill="#2a2a2a">VCCAB+</text>
<text x="770.25" y="211.4" font-size="6.8" textLength="7.95" lengthAdjust="spacingAndGlyphs" fill="#2a2a2a">S2</text>
<text x="770.55" y="278.7" font-size="6.8" textLength="7.85" lengthAdjust="spacingAndGlyphs" fill="#2a2a2a">S2</text>
<text x="770.55" y="345.7" font-size="6.8" textLength="7.85" lengthAdjust="spacingAndGlyphs" fill="#2a2a2a">S2</text>
<text x="795.8" y="206.5" font-size="7" textLength="16.5" lengthAdjust="spacingAndGlyphs" font-weight="bold" fill="#2a2a2a">VINB+</text>
<text x="795.3" y="273.4" font-size="7" textLength="20.1" lengthAdjust="spacingAndGlyphs" font-weight="bold" fill="#2a2a2a">VCOMB</text>
<text x="795.8" y="340.9" font-size="6.57" textLength="16.4" lengthAdjust="spacingAndGlyphs" font-weight="bold" fill="#2a2a2a">VINB-</text>
<text transform="translate(325.22,257) rotate(-90)" x="0" y="0" font-size="5.6" textLength="10.5" lengthAdjust="spacingAndGlyphs" font-weight="bold" fill="#2a2a2a">+IN</text>
<text transform="translate(330.92,274.3) rotate(-90)" x="0" y="0" font-size="5.6" textLength="26.6" lengthAdjust="spacingAndGlyphs" font-weight="bold" fill="#2a2a2a">DISABLE</text>
<text transform="translate(336.52,257.9) rotate(-90)" x="0" y="0" font-size="5.6" textLength="6.9" lengthAdjust="spacingAndGlyphs" font-weight="bold" fill="#2a2a2a">V+</text>
<text transform="translate(342.42,263.8) rotate(-90)" x="0" y="0" font-size="5.6" textLength="13.5" lengthAdjust="spacingAndGlyphs" font-weight="bold" fill="#2a2a2a">-OUT</text>
<text transform="translate(350.43,278.1) rotate(-90)" x="0" y="0" font-size="6.2" textLength="11.8" lengthAdjust="spacingAndGlyphs" font-weight="bold" fill="#2a2a2a">DAP</text>
<text transform="translate(325.02,293.3) rotate(-90)" x="0" y="0" font-size="5.6" textLength="7.6" lengthAdjust="spacingAndGlyphs" font-weight="bold" fill="#2a2a2a">-IN</text>
<text transform="translate(331.02,294.2) rotate(-90)" x="0" y="0" font-size="5.6" textLength="11" lengthAdjust="spacingAndGlyphs" font-weight="bold" fill="#2a2a2a">VCM</text>
<text transform="translate(337.02,294.2) rotate(-90)" x="0" y="0" font-size="5.6" textLength="5.9" lengthAdjust="spacingAndGlyphs" font-weight="bold" fill="#2a2a2a">V-</text>
<text transform="translate(343.02,294.2) rotate(-90)" x="0" y="0" font-size="5.6" textLength="13.5" lengthAdjust="spacingAndGlyphs" font-weight="bold" fill="#2a2a2a">+OUT</text>
<text transform="translate(322.5,241) rotate(-90)" font-size="5.5" font-weight="bold" fill="#333">8</text>
<text transform="translate(328.5,241) rotate(-90)" font-size="5.5" font-weight="bold" fill="#333">7</text>
<text transform="translate(334.5,241) rotate(-90)" font-size="5.5" font-weight="bold" fill="#333">6</text>
<text transform="translate(340.5,241) rotate(-90)" font-size="5.5" font-weight="bold" fill="#333">5</text>
<text transform="translate(322.5,307.5) rotate(-90)" font-size="5.5" font-weight="bold" fill="#333">1</text>
<text transform="translate(328.5,307.5) rotate(-90)" font-size="5.5" font-weight="bold" fill="#333">2</text>
<text transform="translate(334.5,307.5) rotate(-90)" font-size="5.5" font-weight="bold" fill="#333">3</text>
<text transform="translate(340.5,307.5) rotate(-90)" font-size="5.5" font-weight="bold" fill="#333">4</text>
<text transform="translate(357,55) rotate(-90)" font-size="5.5" font-weight="bold" fill="#333">1</text>
<text transform="translate(357,83) rotate(-90)" font-size="5.5" font-weight="bold" fill="#333">2</text>
<text x="638.4" y="465.0" font-size="21.3" textLength="163.9" lengthAdjust="spacingAndGlyphs" fill="#c6dcbd" stroke="#c6dcbd" stroke-width="0.45">www.cntronics.com</text>
</svg>
</body></html>
